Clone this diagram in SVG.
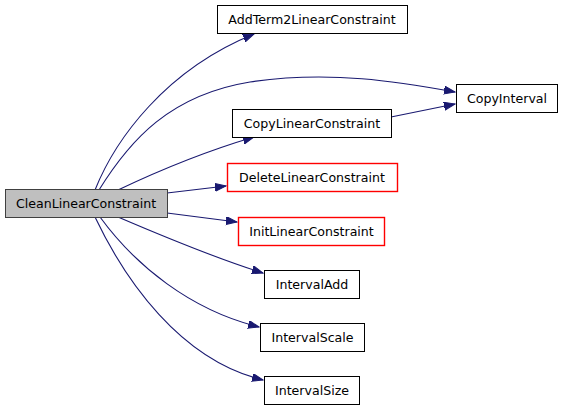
<svg xmlns="http://www.w3.org/2000/svg" width="563" height="411" viewBox="0 0 563 411">
<style>
.n rect{fill:#fff;stroke:#000;stroke-width:1}
.n.r rect{stroke:#ff0000;stroke-width:1.4}
.n.root rect{fill:#bfbfbf;stroke:#404040}
text{font-family:"DejaVu Sans",sans-serif;font-size:12.6px;text-anchor:middle;fill:#000}
.e path{fill:none;stroke:#191970;stroke-width:1.1}
</style>
<defs>
<marker id="a" markerUnits="userSpaceOnUse" markerWidth="12" markerHeight="10" refX="11" refY="4" orient="auto">
<path d="M0,0 L11,4 L0,8 Z" fill="#191970" stroke="#191970"/>
</marker>
</defs>
<rect width="563" height="411" fill="#fff"/>
<g id="edges" class="e">
<path d="M95,190 C115,140 165,70 254,34" marker-end="url(#a)"/>
<path d="M99,190 C130,140 170,95 250,82 C330,70 400,82 455,92" marker-end="url(#a)"/>
<path d="M391,117 L455,104" marker-end="url(#a)"/>
<path d="M118,190 C160,170 210,150 254,137" marker-end="url(#a)"/>
<path d="M167,193 L226,186" marker-end="url(#a)"/>
<path d="M167,213 L237,222" marker-end="url(#a)"/>
<path d="M118,217 C160,235 215,258 263,273" marker-end="url(#a)"/>
<path d="M100,217 C135,265 190,310 259,327" marker-end="url(#a)"/>
<path d="M95,217 C125,280 180,360 263,380" marker-end="url(#a)"/>
</g>
<g id="CleanLinearConstraint" class="n root"><rect x="5.5" y="189.5" width="162" height="28"/><text x="86" y="208">CleanLinearConstraint</text></g>
<g id="AddTerm2LinearConstraint" class="n"><rect x="217.5" y="5.5" width="190" height="28"/><text x="312" y="24">AddTerm2LinearConstraint</text></g>
<g id="CopyInterval" class="n"><rect x="456.5" y="84.5" width="101" height="28"/><text x="507" y="103">CopyInterval</text></g>
<g id="CopyLinearConstraint" class="n"><rect x="232.5" y="109.5" width="159" height="28"/><text x="312" y="128">CopyLinearConstraint</text></g>
<g id="DeleteLinearConstraint" class="n r"><rect x="227.5" y="163.5" width="170" height="28"/><text x="312" y="182">DeleteLinearConstraint</text></g>
<g id="InitLinearConstraint" class="n r"><rect x="238.5" y="217.5" width="146" height="28"/><text x="311.5" y="236">InitLinearConstraint</text></g>
<g id="IntervalAdd" class="n"><rect x="264.5" y="270.5" width="95" height="28"/><text x="312" y="289">IntervalAdd</text></g>
<g id="IntervalScale" class="n"><rect x="260.5" y="323.5" width="104" height="28"/><text x="312.5" y="342">IntervalScale</text></g>
<g id="IntervalSize" class="n"><rect x="264.5" y="376.5" width="95" height="28"/><text x="312" y="395">IntervalSize</text></g>
</svg>
